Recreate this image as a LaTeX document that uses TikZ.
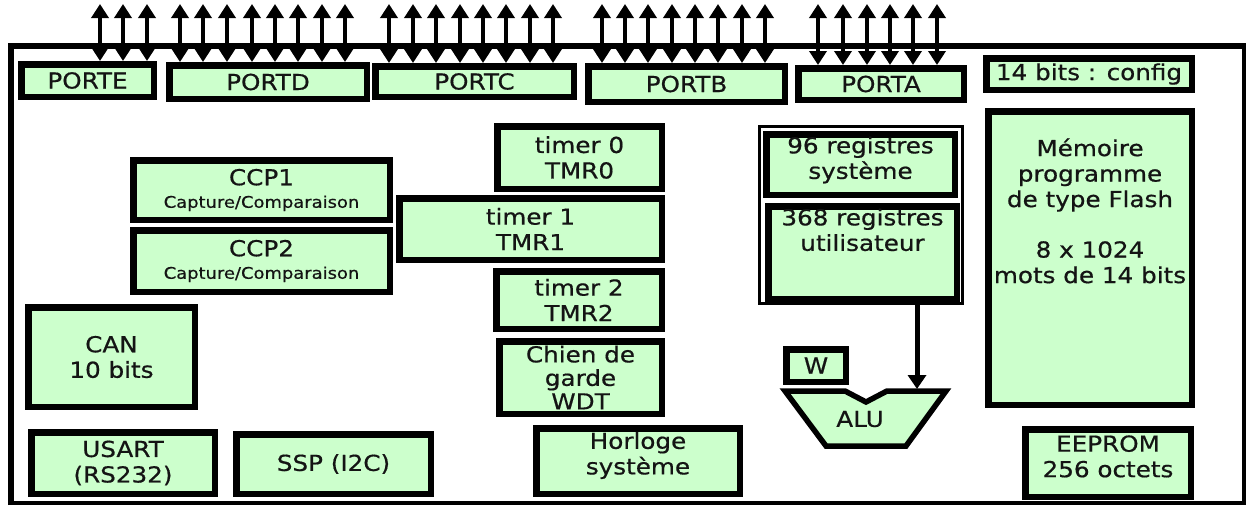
\documentclass[tikz,border=0pt]{standalone}
\usepackage{fontspec}
\setmainfont{DejaVu Sans}[FakeStretch=1.12,FakeBold=0.6]
\usetikzlibrary{arrows.meta}
\definecolor{boxfill}{RGB}{204,255,204}
\definecolor{ink}{RGB}{20,20,20}
% name, x1, y1, x2, y2 (outer edges in px), text
\newcommand{\blk}[6]{%
  \node[blk, minimum width={(#4-#2-6.5)*1pt}, minimum height={(#5-#3-6.5)*1pt}] (#1) at ({(#2+#4)/2},{(#3+#5)/2}) {#6};}
\begin{document}
\begin{tikzpicture}[x=1pt,y=-1pt,
  blk/.style={draw=black, fill=boxfill, line width=6.5pt, inner sep=0pt, align=center, text=ink,
    font=\fontsize{22}{25.5}\selectfont},
  pinarrow/.style={line width=4.5pt, {Triangle[width=17pt,length=14pt]}-{Triangle[width=17pt,length=14pt]}},
  flow/.style={line width=5pt, -{Triangle[width=18pt,length=14pt]}}]
\fill[white] (0,0) rectangle (1249,506);
\useasboundingbox (0,0) rectangle (1249,506);
% chip frame
\draw[line width=3.5pt] (1244,46) -- (1244,503) -- (11,503);
\draw[line width=5.5pt] (11,505) -- (11,46) -- (1246,46);
% ports
\blk{PORTE}{18}{61}{157}{100}{PORTE}
\blk{PORTD}{166}{62}{370}{102}{PORTD}
\blk{PORTC}{372}{63}{577}{100}{PORTC}
\blk{PORTB}{585}{63}{788}{105}{PORTB}
\blk{PORTA}{795}{65}{967}{103}{PORTA}
\blk{config}{983}{55}{1195}{93}{14 bits : config}
% peripherals
\blk{tmr0}{494}{123}{665}{192}{timer 0\\TMR0}
\blk{ccp1}{130}{157}{393}{223}{CCP1\\[-3pt]{\fontsize{16}{18}\selectfont Capture/Comparaison}}
\blk{tmr1}{396}{195}{665}{263}{timer 1\\TMR1}
\blk{ccp2}{130}{227}{393}{295}{CCP2\\[-3pt]{\fontsize{16}{18}\selectfont Capture/Comparaison}}
\blk{tmr2}{493}{268}{665}{332}{timer 2\\TMR2}
\blk{can}{25}{304}{198}{410}{CAN\\10 bits}
\blk{wdt}{496}{338}{665}{417}{Chien de\\[-2pt]garde\\[-2pt]WDT}
\blk{usart}{28}{429}{218}{497}{USART\\(RS232)}
\blk{ssp}{233}{431}{434}{497}{SSP (I2C)}
\blk{clk}{533}{425}{743}{497}{Horloge\\système\\[-10pt]\mbox{}}
% registers
\node[draw=black, line width=3pt, fill=white, minimum width=203pt, minimum height=177pt, inner sep=0pt] (regs) at (861,215) {};
\blk{sysreg}{763}{131}{958}{198}{96 registres\\système\\[-12pt]\mbox{}}
\blk{usrreg}{765}{203}{960}{302}{368 registres\\utilisateur\\[20pt]\mbox{}}
% memories
\blk{flash}{985}{108}{1195}{408}{Mémoire\\programme\\de type Flash\\[25pt]8 x 1024\\mots de 14 bits\\[69pt]\mbox{}}
\blk{eeprom}{1022}{426}{1194}{500}{EEPROM\\256 octets\\[-12pt]\mbox{}}
% W and ALU
\blk{wreg}{783}{346}{849}{385}{W}
\draw[line width=5.5pt, fill=boxfill] (785,391) -- (845,391) -- (866,402) -- (887,391) -- (946,391) -- (906,446) -- (826,446) -- cycle;
\node[text=ink, font=\fontsize{22}{25}\selectfont] (alu) at (860,419) {ALU};
\coordinate (aluin) at (917,389);
\draw[flow] (regs.south -| aluin) -- (aluin);
% port pins
\foreach \x in {100,123,147} {\coordinate (pe\x) at (\x,4); \draw[pinarrow] (pe\x) -- (pe\x |- PORTE.north);}
\foreach \x in {180,203,227,252,275,298,322,345} {\coordinate (pd\x) at (\x,4); \draw[pinarrow] (pd\x) -- (pd\x |- PORTD.north);}
\foreach \x in {389,413,436,460,483,506,530,553} {\coordinate (pc\x) at (\x,4); \draw[pinarrow] (pc\x) -- (pc\x |- PORTC.north);}
\foreach \x in {602,625,648,672,695,718,742,765} {\coordinate (pb\x) at (\x,4); \draw[pinarrow] (pb\x) -- (pb\x |- PORTB.north);}
\foreach \x in {818,843,867,890,913,937} {\coordinate (pa\x) at (\x,4); \draw[pinarrow] (pa\x) -- (pa\x |- PORTA.north);}
\end{tikzpicture}
\end{document}
